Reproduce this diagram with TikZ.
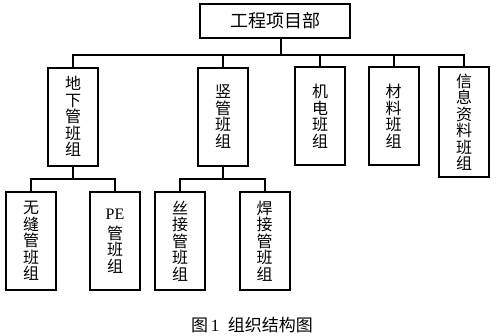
\documentclass[tikz,border=0pt]{standalone}
\usepackage{fontspec}
\setmainfont{Liberation Serif}
\newfontfamily\cjk{Noto Sans CJK SC}
\usetikzlibrary{positioning}
\tikzset{
  unit/.style={draw,line width=2pt,minimum width=50pt,minimum height=98pt,inner sep=0pt,align=center,font=\cjk\fontsize{16}{16.5}\selectfont},
  link/.style={line width=2pt},
}

\begin{document}
\begin{tikzpicture}[x=1pt,y=-1pt]
    \useasboundingbox (0,0) rectangle (500,335);
    % top
    \node[draw,line width=2pt,minimum width=150pt,minimum height=34pt,inner sep=0pt,font=\cjk\fontsize{18}{20}\selectfont] (dept) at (275,21) {工程项目部};
    % second row
    \node[unit] (dixia) at (73,116.5) {地\\下\\管\\班\\组};
    \node[unit] (shu) at (223,116.5) {竖\\管\\班\\组};
    \node[unit] (jidian) at (320,116) {机\\电\\班\\组};
    \node[unit] (cailiao) at (393.5,116) {材\\料\\班\\组};
    \node[unit,minimum height=110pt] (xinxi) at (464,122) {信\\息\\资\\料\\班\\组};
    % third row
    \node[unit] (wufeng) at (31,241) {无\\缝\\管\\班\\组};
    \node[unit] (pe) at (115,241) {\rmfamily PE\\[3pt]管\\班\\组};
    \node[unit] (sijie) at (180,241) {丝\\接\\管\\班\\组};
    \node[unit] (hanjie) at (264.5,241) {焊\\接\\管\\班\\组};
    % connectors
    \draw[link] ([xshift=6pt]dept.south) -- ++(0,16) coordinate (bus1);
    \foreach \n in {dixia,shu,jidian,cailiao,xinxi}
      \draw[link] (\n.north) |- (bus1);
    \draw[link] (dixia.south) -- ++(0,12) coordinate (bus2);
    \draw[link] (wufeng.north) |- (bus2);
    \draw[link] (pe.north) |- (bus2);
    \draw[link] (shu.south) -- ++(0,12) coordinate (bus3);
    \draw[link] (sijie.north) |- (bus3);
    \draw[link] (hanjie.north) |- (bus3);
    % caption
    \node[font=\fontsize{17}{19}\selectfont] (cap) at (252,325) {{\cjk 图}\,1\ \ {\cjk 组织结构图}};
\end{tikzpicture}
\end{document}
